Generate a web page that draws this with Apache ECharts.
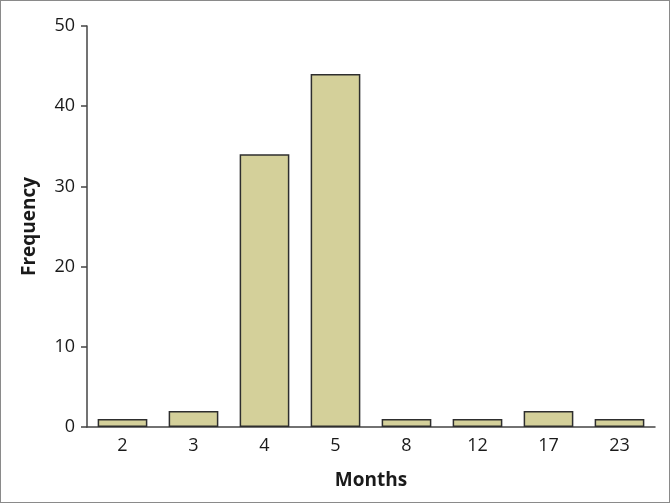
<!DOCTYPE html>
<html>
<head>
<meta charset="utf-8">
<script src="https://cdn.jsdelivr.net/npm/echarts@6/dist/echarts.min.js"></script>
<style>
  html, body { margin: 0; padding: 0; background: #fff; }
  #main { width: 668px; height: 501px; border: 1px solid #8a8a8a; }
</style>
</head>
<body>
<div id="main"></div>
<script>
var months = ['2', '3', '4', '5', '8', '12', '17', '23'];
var frequency = [1, 2, 34, 44, 1, 1, 2, 1];
var yTicks = [0, 10, 20, 30, 40, 50];

var myChart = echarts.init(document.getElementById('main'));

var option = {
  backgroundColor: '#fff',
  animation: false,
  textStyle: { fontFamily: 'Open Sans' },
  grid: {
    left: 86,
    right: 14,
    top: 25,
    bottom: 75
  },
  xAxis: {
    type: 'category',
    data: months,
    name: 'Months',
    nameLocation: 'middle',
    nameGap: 44,
    nameTextStyle: { fontSize: 19, fontWeight: 'bold', color: '#1a1a1a', fontFamily: 'Open Sans' },
    axisLine: { lineStyle: { color: '#444', width: 1.5 } },
    axisTick: { alignWithLabel: true, length: 6, lineStyle: { color: '#444', width: 1.5 } },
    axisLabel: { fontSize: 18, color: '#1a1a1a', margin: 10, fontFamily: 'Open Sans' }
  },
  yAxis: {
    type: 'value',
    min: yTicks[0],
    max: yTicks[yTicks.length - 1],
    interval: 10,
    name: 'Frequency',
    nameLocation: 'middle',
    nameGap: 48,
    nameTextStyle: { fontSize: 19, fontWeight: 'bold', color: '#1a1a1a', fontFamily: 'Open Sans' },
    axisLine: { show: true, lineStyle: { color: '#444', width: 1.5 } },
    axisTick: { show: true, length: 6, lineStyle: { color: '#444', width: 1.5 } },
    axisLabel: { fontSize: 18, color: '#1a1a1a', margin: 12, fontFamily: 'Open Sans' },
    splitLine: { show: false }
  },
  series: [{
    type: 'bar',
    data: frequency,
    barWidth: '70%',
    itemStyle: {
      color: '#d4d09a',
      borderColor: '#2e2e2e',
      borderWidth: 1.5
    }
  }]
};

myChart.setOption(option);
</script>
</body>
</html>
